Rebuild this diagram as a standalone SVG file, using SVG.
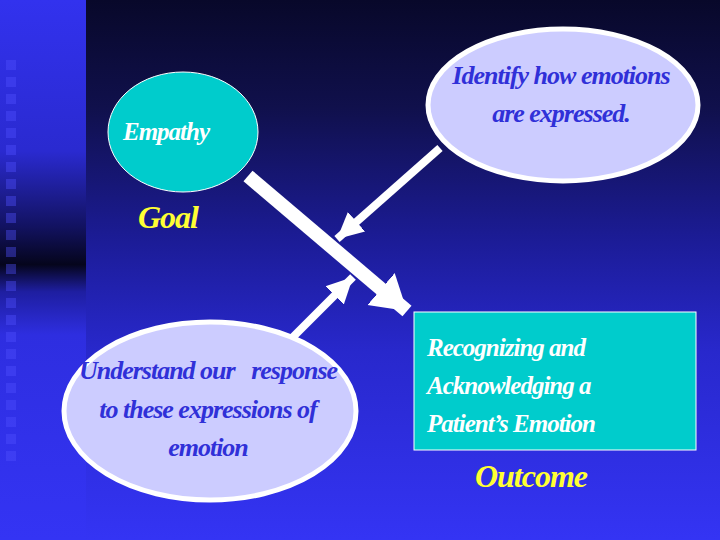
<svg xmlns="http://www.w3.org/2000/svg" width="720" height="540" viewBox="0 0 720 540">
<style>
.script{font-family:"Liberation Serif","DejaVu Serif",serif;font-style:italic;font-weight:bold;}
.blue{fill:#3030d8;font-size:26px;letter-spacing:-1px;}
.white{fill:#ffffff;font-size:25px;letter-spacing:-1px;}
.yellow{fill:#ffff33;font-size:32px;letter-spacing:-1px;}
.conn{stroke:#ffffff;fill:none;}
.sq{fill:#5050ff;opacity:0.4;}
</style>
<defs>
<linearGradient id="main" x1="0" y1="0" x2="0" y2="1">
<stop offset="0" stop-color="#08082a"/>
<stop offset="0.2" stop-color="#10104c"/>
<stop offset="0.45" stop-color="#1c1c98"/>
<stop offset="0.65" stop-color="#2828cc"/>
<stop offset="1" stop-color="#3434f4"/>
</linearGradient>
<linearGradient id="strip" x1="0" y1="0" x2="0" y2="1">
<stop offset="0" stop-color="#3232ee"/>
<stop offset="0.28" stop-color="#2a2ad0"/>
<stop offset="0.42" stop-color="#121260"/>
<stop offset="0.49" stop-color="#05051c"/>
<stop offset="0.54" stop-color="#1e1ea0"/>
<stop offset="0.62" stop-color="#2e2ee0"/>
<stop offset="1" stop-color="#3434f4"/>
</linearGradient>
<marker id="headBig" markerUnits="userSpaceOnUse" markerWidth="40" markerHeight="44" refX="34" refY="21" orient="auto" viewBox="0 0 40 42">
<polygon points="0,0 34,21 0,42" fill="#ffffff"/>
</marker>
<marker id="headSmall" markerUnits="userSpaceOnUse" markerWidth="30" markerHeight="30" refX="26" refY="13" orient="auto" viewBox="0 0 30 26">
<polygon points="0,0 26,13 0,26" fill="#ffffff"/>
</marker>
</defs>
<rect x="0" y="0" width="720" height="540" fill="#3434f4"/>
<rect x="0" y="0" width="86" height="540" fill="url(#strip)"/>
<rect x="86" y="0" width="634" height="540" fill="url(#main)"/>
<g id="squares">
<rect class="sq" x="6" y="60" width="10" height="10"/>
<rect class="sq" x="6" y="77" width="10" height="10"/>
<rect class="sq" x="6" y="94" width="10" height="10"/>
<rect class="sq" x="6" y="111" width="10" height="10"/>
<rect class="sq" x="6" y="128" width="10" height="10"/>
<rect class="sq" x="6" y="145" width="10" height="10"/>
<rect class="sq" x="6" y="162" width="10" height="10"/>
<rect class="sq" x="6" y="179" width="10" height="10"/>
<rect class="sq" x="6" y="196" width="10" height="10"/>
<rect class="sq" x="6" y="213" width="10" height="10"/>
<rect class="sq" x="6" y="230" width="10" height="10"/>
<rect class="sq" x="6" y="247" width="10" height="10"/>
<rect class="sq" x="6" y="264" width="10" height="10"/>
<rect class="sq" x="6" y="281" width="10" height="10"/>
<rect class="sq" x="6" y="298" width="10" height="10"/>
<rect class="sq" x="6" y="315" width="10" height="10"/>
<rect class="sq" x="6" y="332" width="10" height="10"/>
<rect class="sq" x="6" y="349" width="10" height="10"/>
<rect class="sq" x="6" y="366" width="10" height="10"/>
<rect class="sq" x="6" y="383" width="10" height="10"/>
<rect class="sq" x="6" y="400" width="10" height="10"/>
<rect class="sq" x="6" y="417" width="10" height="10"/>
<rect class="sq" x="6" y="434" width="10" height="10"/>
<rect class="sq" x="6" y="451" width="10" height="10"/>
</g>
<g id="connectors">
<line class="conn" x1="248" y1="176" x2="407" y2="311" stroke-width="14" marker-end="url(#headBig)"/>
<line class="conn" x1="440" y1="148" x2="337" y2="239" stroke-width="8" marker-end="url(#headSmall)"/>
<line class="conn" x1="290" y1="340" x2="353" y2="277" stroke-width="8" marker-end="url(#headSmall)"/>
</g>
<g id="empathy">
<ellipse cx="183" cy="132" rx="75" ry="60" fill="#00cccc" stroke="#ffffff" stroke-width="1"/>
<text class="script white" x="166" y="140" text-anchor="middle">Empathy</text>
</g>
<g id="goal">
<text class="script yellow" x="168" y="228" text-anchor="middle" font-size="28">Goal</text>
</g>
<g id="identify">
<ellipse cx="563" cy="105" rx="135" ry="76" fill="#ccccff" stroke="#ffffff" stroke-width="5"/>
<text class="script blue" x="561" y="84" text-anchor="middle">Identify how emotions</text>
<text class="script blue" x="561" y="122" text-anchor="middle">are expressed.</text>
</g>
<g id="understand">
<ellipse cx="210" cy="411" rx="146" ry="89" fill="#ccccff" stroke="#ffffff" stroke-width="5"/>
<text class="script blue" x="208" y="379" text-anchor="middle" xml:space="preserve">Understand our   response</text>
<text class="script blue" x="208" y="418" text-anchor="middle">to these expressions of</text>
<text class="script blue" x="208" y="456" text-anchor="middle">emotion</text>
</g>
<g id="recognizing">
<rect x="414" y="312" width="282" height="138" fill="#00cccc" stroke="#ffffff" stroke-width="1"/>
<text class="script white" x="427" y="356">Recognizing and</text>
<text class="script white" x="427" y="394">Acknowledging a</text>
<text class="script white" x="427" y="432">Patient’s Emotion</text>
</g>
<g id="outcome">
<text class="script yellow" x="531" y="487" text-anchor="middle">Outcome</text>
</g>
</svg>
